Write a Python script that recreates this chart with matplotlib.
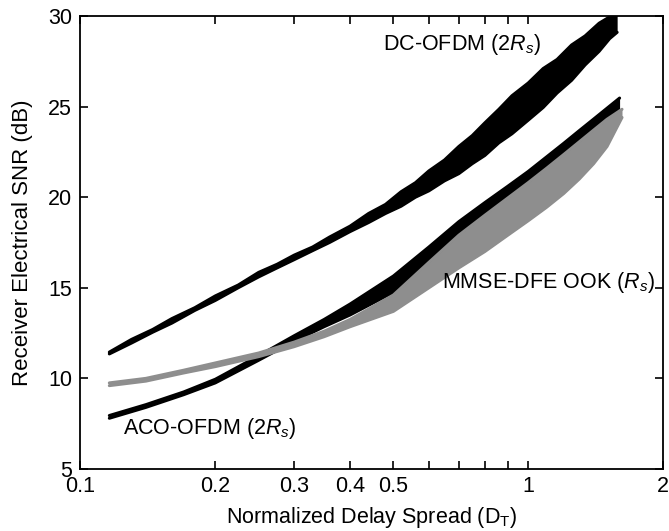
import numpy as np
import matplotlib
matplotlib.use("Agg")
import matplotlib.pyplot as plt
from matplotlib.ticker import FixedLocator, NullLocator, FixedFormatter

plt.rcParams['font.family'] = ['Liberation Sans', 'DejaVu Sans']
plt.rcParams['mathtext.fontset'] = 'custom'
plt.rcParams['mathtext.rm'] = 'Liberation Sans'
plt.rcParams['mathtext.it'] = 'Liberation Sans:italic'

# DC-OFDM band (2Rs), black
dc_x = [0.116, 0.13, 0.145, 0.16, 0.18, 0.2, 0.225, 0.25, 0.275, 0.3,
        0.33, 0.36, 0.4, 0.44, 0.48, 0.52, 0.56, 0.6, 0.65, 0.7,
        0.75, 0.8, 0.86, 0.92, 1.0, 1.08, 1.16, 1.25, 1.34, 1.44,
        1.52, 1.58]
dc_upper = [11.45, 12.15, 12.7, 13.3, 13.9, 14.55, 15.15, 15.85, 16.3, 16.8,
            17.25, 17.8, 18.4, 19.1, 19.6, 20.3, 20.8, 21.45, 22.05, 22.8,
            23.4, 24.1, 24.85, 25.6, 26.3, 27.1, 27.6, 28.4, 28.9, 29.6,
            29.95, 30.4]
dc_lower = [11.35, 11.95, 12.55, 13.05, 13.75, 14.3, 15.0, 15.6, 16.1, 16.55,
            17.05, 17.5, 18.1, 18.6, 19.1, 19.5, 20.0, 20.35, 20.9, 21.3,
            21.85, 22.3, 23.0, 23.5, 24.25, 24.95, 25.75, 26.45, 27.3, 28.05,
            28.75, 29.1]

# ACO-OFDM band (2Rs), black
aco_x = [0.116, 0.14, 0.17, 0.2, 0.25, 0.3, 0.35, 0.4, 0.5, 0.6,
         0.7, 0.8, 0.9, 1.0, 1.1, 1.2, 1.3, 1.4, 1.5, 1.6]
aco_upper = [7.95, 8.55, 9.25, 9.95, 11.25, 12.35, 13.25, 14.1, 15.65, 17.25,
             18.65, 19.7, 20.6, 21.42, 22.23, 22.97, 23.67, 24.31, 24.91, 25.47]
aco_lower = [7.8, 8.4, 9.1, 9.75, 11.0, 12.05, 12.85, 13.5, 14.75, 16.05,
             17.15, 18.1, 18.95, 19.7, 20.5, 21.25, 22.0, 22.8, 23.7, 24.6]

# MMSE-DFE OOK band (Rs), gray
ook_x = [0.116, 0.14, 0.17, 0.2, 0.25, 0.3, 0.35, 0.4, 0.5, 0.6,
         0.7, 0.8, 0.9, 1.0, 1.1, 1.2, 1.3, 1.4, 1.5, 1.62]
ook_upper = [9.75, 10.0, 10.45, 10.85, 11.4, 12.0, 12.6, 13.25, 14.6, 16.4,
             17.9, 19.0, 19.95, 20.8, 21.6, 22.35, 23.05, 23.7, 24.3, 24.85]
ook_lower = [9.6, 9.85, 10.3, 10.65, 11.2, 11.75, 12.3, 12.85, 13.7, 15.0,
             16.1, 17.0, 17.9, 18.7, 19.45, 20.2, 21.0, 21.85, 22.8, 24.4]

xticks = [0.1, 0.2, 0.3, 0.4, 0.5, 0.6, 0.7, 0.8, 0.9, 1, 2]
xticklabels = ['0.1', '0.2', '0.3', '0.4', '0.5', '', '', '', '', '1', '2']
yticks = [5, 10, 15, 20, 25, 30]

black = '#000000'
gray = '#8e8e8e'
fs = 15.5

fig = plt.figure(figsize=(6.69, 5.31), dpi=100)
ax = fig.add_axes([0.1203, 0.1168, 0.8707, 0.8531])

def band(x, lo, hi, color, z):
    ax.fill_between(x, lo, hi, color=color, lw=0, zorder=z)
    ax.plot(x, hi, color=color, lw=2.2, solid_capstyle='round', zorder=z)
    ax.plot(x, lo, color=color, lw=2.2, solid_capstyle='round', zorder=z)

band(dc_x, dc_lower, dc_upper, black, 2)
band(aco_x, aco_lower, aco_upper, black, 2)
band(ook_x, ook_lower, ook_upper, gray, 3)

ax.set_xscale('log')
ax.set_xlim(0.1, 2)
ax.set_ylim(5, 30)
ax.xaxis.set_major_locator(FixedLocator(xticks))
ax.xaxis.set_major_formatter(FixedFormatter(xticklabels))
ax.xaxis.set_minor_locator(NullLocator())
ax.set_yticks(yticks)
ax.tick_params(direction='in', length=6, width=1.2, top=True, right=True,
               labelsize=fs)
ax.tick_params(axis='x', pad=5)
ax.tick_params(axis='y', pad=6)

for s in ax.spines.values():
    s.set_linewidth(1.3)

ax.set_xlabel('Normalized Delay Spread (D$_\\mathrm{T}$)', fontsize=fs)
ax.set_ylabel('Receiver Electrical SNR (dB)', fontsize=16)
ax.xaxis.set_label_coords(0.5, -0.08)
ax.yaxis.set_label_coords(-0.081, 0.5)

ax.text(0.474, 28.4, 'DC-OFDM (2$R_s$)', fontsize=fs, va='center', ha='left')
ax.text(0.643, 15.3, 'MMSE-DFE OOK ($R_s$)', fontsize=fs, va='center', ha='left')
ax.text(0.1245, 7.26, 'ACO-OFDM (2$R_s$)', fontsize=fs, va='center', ha='left')

fig.savefig('out.png', dpi=100)
